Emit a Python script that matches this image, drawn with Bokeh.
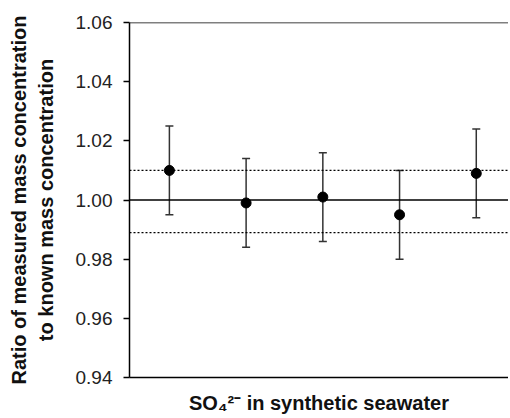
from bokeh.plotting import figure
from bokeh.models import ColumnDataSource, Whisker, Span, FixedTicker, NumeralTickFormatter, Range1d
from bokeh.embed import file_html
from bokeh.resources import INLINE

samples = [1, 2, 3, 4, 5]
ratio = [1.010, 0.999, 1.001, 0.995, 1.009]
upper = [1.025, 1.014, 1.016, 1.010, 1.024]
lower = [0.995, 0.984, 0.986, 0.980, 0.994]
reference_line = 1.000
limit_high = 1.010
limit_low = 0.989
y_ticks = [0.94, 0.96, 0.98, 1.00, 1.02, 1.04, 1.06]

src = ColumnDataSource(dict(x=samples, y=ratio, up=upper, lo=lower))

p = figure(width=508, height=416, output_backend="svg", toolbar_location=None,
           x_range=Range1d(0.48, 5.42), y_range=Range1d(0.94, 1.06),
           min_border_left=129, min_border_right=0, min_border_top=22, min_border_bottom=39)
p.outline_line_color = None
p.xgrid.visible = False
p.ygrid.visible = False
p.background_fill_color = "white"
p.border_fill_color = "white"

font = "Liberation Sans"
p.yaxis.ticker = FixedTicker(ticks=y_ticks)
p.yaxis.formatter = NumeralTickFormatter(format="0.00")
p.yaxis.major_label_text_font = font
p.yaxis.major_label_text_font_size = "19px"
p.yaxis.major_label_text_color = "#222222"
p.yaxis.major_label_standoff = 11
p.yaxis.major_tick_out = 6
p.yaxis.major_tick_in = 0
p.yaxis.minor_tick_out = 0
p.yaxis.minor_tick_in = 0
p.yaxis.axis_line_width = 1.5
p.yaxis.major_tick_line_width = 1.5
p.yaxis.axis_label = "Ratio of measured mass concentration\nto known mass concentration"
p.yaxis.axis_label_text_font = font
p.yaxis.axis_label_text_font_style = "bold"
p.yaxis.axis_label_text_font_size = "20px"
p.yaxis.axis_label_text_color = "#111111"
p.yaxis.axis_label_standoff = 16

p.xaxis.ticker = FixedTicker(ticks=[])
p.xaxis.major_tick_out = 0
p.xaxis.major_tick_in = 0
p.xaxis.minor_tick_out = 0
p.xaxis.minor_tick_in = 0
p.xaxis.axis_line_width = 1.5
p.xaxis.axis_label = "SO\u2084\u00b2\u207b in synthetic seawater"
p.xaxis.axis_label_text_font = font
p.xaxis.axis_label_text_font_style = "bold"
p.xaxis.axis_label_text_font_size = "20px"
p.xaxis.axis_label_text_color = "#111111"
p.xaxis.axis_label_standoff = 14

p.add_layout(Span(location=1.06, dimension="width", line_color="black", line_width=1.5))
p.add_layout(Span(location=reference_line, dimension="width", line_color="black", line_width=1.5))
p.add_layout(Span(location=limit_high, dimension="width", line_color="black", line_width=1.2, line_dash="2 2"))
p.add_layout(Span(location=limit_low, dimension="width", line_color="black", line_width=1.2, line_dash="2 2"))

w = Whisker(source=src, base="x", upper="up", lower="lo", line_color="#333333", line_width=1.5)
w.upper_head.size = 8
w.lower_head.size = 8
w.upper_head.line_color = "#333333"
w.lower_head.line_color = "#333333"
w.upper_head.line_width = 1.5
w.lower_head.line_width = 1.5
p.add_layout(w)

p.scatter("x", "y", source=src, size=10, color="black")

open("out.html", "w").write(file_html(p, INLINE))
